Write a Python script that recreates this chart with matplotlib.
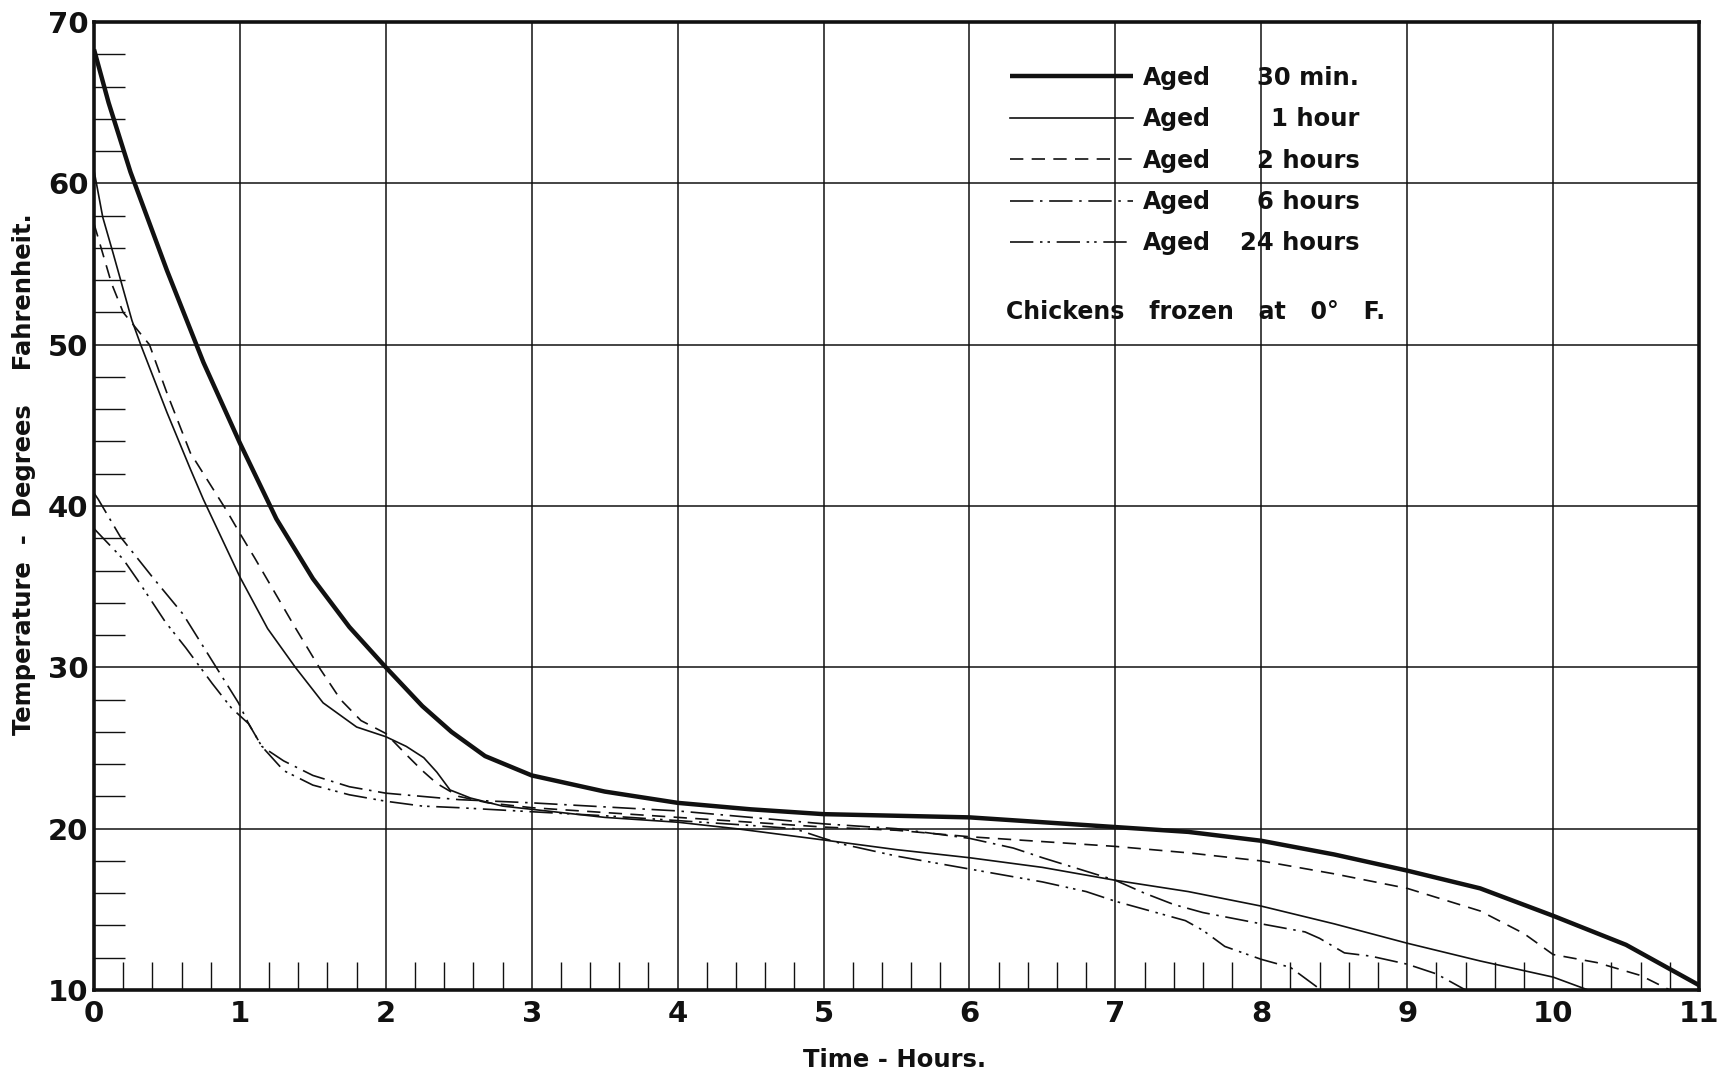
import matplotlib
matplotlib.use("Agg")
import matplotlib.pyplot as plt
from matplotlib.ticker import MultipleLocator

plt.rcParams["font.family"] = ["DejaVu Sans"]

# time (hours) and temperature (deg F)
t_30min = [0, 0.1, 0.25, 0.5, 0.75, 1.0, 1.25, 1.5, 1.75, 2.0, 2.25, 2.45, 2.68,
           3.0, 3.5, 4.0, 4.5, 5.0, 5.5, 6.0, 6.5, 7.0, 7.5, 8.0, 8.5, 9.0,
           9.5, 10.0, 10.5, 11.0]
T_30min = [68.3, 65.0, 60.7, 54.6, 48.9, 43.9, 39.2, 35.5, 32.5, 30.0, 27.6, 26.0,
           24.5, 23.3, 22.3, 21.6, 21.2, 20.9, 20.8, 20.7, 20.4, 20.1, 19.8, 19.25,
           18.4, 17.4, 16.3, 14.6, 12.8, 10.3]

t_1hr = [0, 0.06, 0.13, 0.26, 0.32, 0.5, 0.66, 0.75, 1.0, 1.19, 1.38, 1.57, 1.8,
         2.0, 2.14, 2.26, 2.35, 2.44, 2.58, 2.8, 3.0, 3.5, 4.0, 4.4, 5.0, 5.5,
         6.0, 6.5, 7.0, 7.5, 8.0, 8.5, 9.0, 9.5, 10.0, 10.24]
T_1hr = [60.8, 57.9, 55.7, 51.5, 50.0, 45.8, 42.3, 40.4, 35.6, 32.4, 30.0, 27.8, 26.3,
         25.7, 25.1, 24.4, 23.5, 22.4, 21.9, 21.4, 21.2, 20.7, 20.4, 20.0, 19.3, 18.7,
         18.2, 17.6, 16.8, 16.1, 15.2, 14.1, 12.9, 11.8, 10.8, 10.0]

t_2hr = [0, 0.12, 0.2, 0.38, 0.5, 0.66, 0.91, 1.0, 1.1, 1.19, 1.37, 1.55, 1.69,
         1.83, 2.0, 2.15, 2.25, 2.35, 2.5, 2.7, 3.0, 3.5, 4.0, 4.5, 5.0, 5.5,
         6.0, 6.5, 7.0, 7.5, 8.0, 8.5, 9.0, 9.5, 9.8, 10.0, 10.3, 10.6, 10.8]
T_2hr = [57.5, 53.8, 52.0, 50.0, 47.0, 43.3, 39.7, 38.3, 36.8, 35.4, 32.6, 29.9, 28.0,
         26.7, 25.9, 24.5, 23.6, 22.8, 22.0, 21.6, 21.3, 21.0, 20.7, 20.4, 20.1, 19.9,
         19.5, 19.2, 18.9, 18.5, 18.0, 17.2, 16.3, 14.9, 13.5, 12.2, 11.7, 10.9, 10.0]

t_6hr = [0, 0.03, 0.18, 0.4, 0.61, 0.81, 0.99, 1.06, 1.15, 1.3, 1.5, 1.75, 2.0,
         2.5, 3.0, 3.5, 4.0, 4.5, 5.0, 5.5, 6.0, 6.3, 6.5, 6.75, 7.0, 7.2, 7.4,
         7.6, 7.8, 8.0, 8.3, 8.4, 8.57, 8.75, 9.0, 9.2, 9.4]
T_6hr = [40.8, 40.4, 38.1, 35.6, 33.3, 30.4, 27.8, 26.5, 25.1, 24.2, 23.3, 22.6, 22.2,
         21.8, 21.6, 21.35, 21.1, 20.7, 20.3, 20.0, 19.4, 18.8, 18.2, 17.5, 16.8, 16.0, 15.3,
         14.8, 14.45, 14.1, 13.6, 13.2, 12.3, 12.1, 11.6, 11.0, 10.0]

t_24hr = [0, 0.2, 0.3, 0.49, 0.63, 0.81, 0.94, 1.06, 1.15, 1.3, 1.5, 1.75, 2.0,
          2.25, 2.5, 3.0, 3.5, 4.0, 4.5, 4.8, 5.0, 5.15, 5.5, 6.0, 6.5, 6.8, 7.0,
          7.2, 7.48, 7.6, 7.75, 8.0, 8.2, 8.41]
T_24hr = [38.6, 36.7, 35.4, 32.8, 31.2, 29.0, 27.5, 26.5, 25.1, 23.6, 22.7, 22.1, 21.7,
          21.4, 21.3, 21.05, 20.8, 20.5, 20.2, 20.0, 19.4, 19.0, 18.3, 17.5, 16.7, 16.1, 15.5,
          15.0, 14.3, 13.7, 12.7, 11.9, 11.4, 10.0]

durations = ["30 min.", "1 hour", "2 hours", "6 hours", "24 hours"]

fig = plt.figure(figsize=(17.21, 10.76), dpi=100)
ax = fig.add_axes([94 / 1721, 1 - 990 / 1076, (1699 - 94) / 1721, (990 - 22) / 1076])

ink = "#111111"
lines = []
lines += ax.plot(t_30min, T_30min, color=ink, lw=3.2, solid_capstyle="butt")
lines += ax.plot(t_1hr, T_1hr, color=ink, lw=1.2)
lines += ax.plot(t_2hr, T_2hr, color=ink, lw=1.2, linestyle=(0, (8, 5)))
lines += ax.plot(t_6hr, T_6hr, color=ink, lw=1.2, linestyle=(0, (14, 4, 1.5, 4)))
lines += ax.plot(t_24hr, T_24hr, color=ink, lw=1.2, linestyle=(0, (14, 4, 1.5, 3, 1.5, 4)))

ax.set_xlim(0, 11)
ax.set_ylim(10, 70)
ax.xaxis.set_major_locator(MultipleLocator(1))
ax.yaxis.set_major_locator(MultipleLocator(10))
ax.xaxis.set_minor_locator(MultipleLocator(0.2))
ax.yaxis.set_minor_locator(MultipleLocator(2))
ax.grid(True, which="major", color=ink, lw=1.1)
ax.tick_params(which="major", length=0, labelsize=21, colors=ink)
ax.tick_params(axis="x", which="major", pad=7)
ax.tick_params(axis="y", which="major", pad=4)
ax.tick_params(axis="y", which="minor", direction="in", length=22, width=1.0, color=ink)
ax.tick_params(axis="x", which="minor", direction="in", length=20, width=1.0, color=ink)
for lab in ax.get_xticklabels() + ax.get_yticklabels():
    lab.set_fontweight("bold")
for sp in ax.spines.values():
    sp.set_linewidth(2.6)
    sp.set_color(ink)

leg = ax.legend(lines, ["Aged"] * 5, loc="upper left", bbox_to_anchor=(0.571, 0.955),
                frameon=False, handlelength=5.2, handletextpad=0.4, labelspacing=0.74,
                borderpad=0, borderaxespad=0,
                prop={"size": 17, "weight": "bold"})
for txt, d in zip(leg.get_texts(), durations):
    txt.set_color(ink)
    ax.annotate(d, xy=(1, 0.5), xycoords=txt, xytext=(107, 0), textcoords="offset points",
                ha="right", va="center", fontsize=17.5, fontweight="bold", color=ink, zorder=6)

ax.text(0.568, 0.700, "Chickens   frozen   at   0°   F.", transform=ax.transAxes,
        fontsize=17, fontweight="bold", color=ink, va="center", ha="left")

fig.text(0.014, 0.559, "Temperature  -  Degrees    Fahrenheit.", rotation=90,
         fontsize=17.5, fontweight="bold", color=ink, ha="center", va="center")
fig.text(0.52, 0.0149, "Time - Hours.", fontsize=17.5, fontweight="bold", color=ink,
         ha="center", va="center")

fig.savefig("out.png", dpi=100)
